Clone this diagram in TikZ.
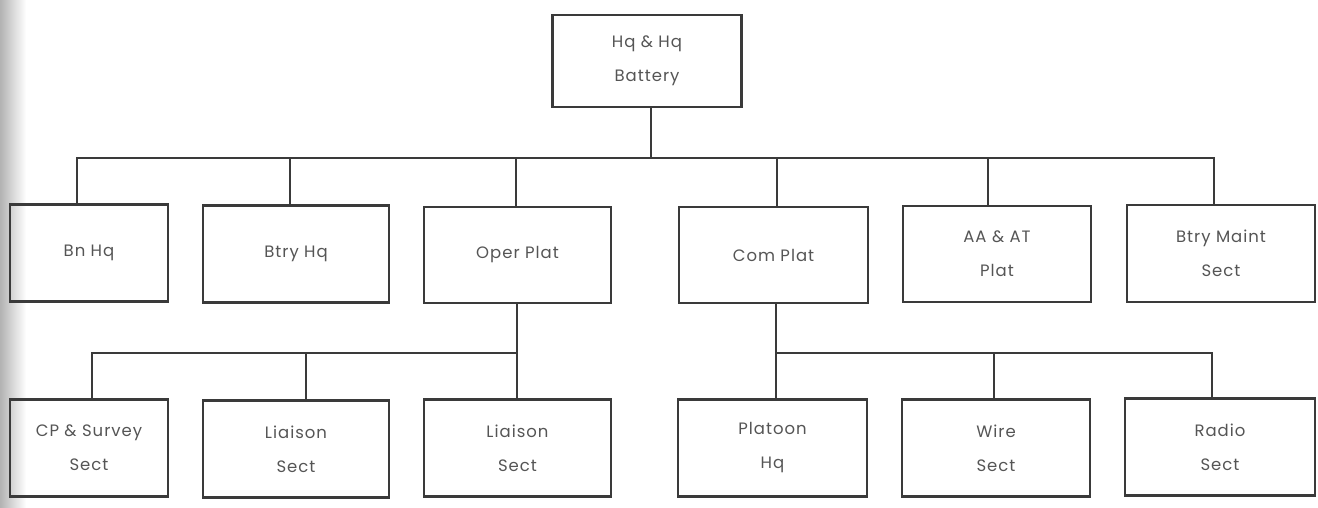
\documentclass[tikz,border=0pt]{standalone}
\usepackage{fontspec}
\newfontfamily\orgfont{Poppins}[LetterSpace=6]
\definecolor{ink}{HTML}{3A3A3A}
\definecolor{txt}{HTML}{555555}
\tikzset{
  x=1pt, y=-1pt,
  unit/.style={draw=ink, line width=2.4pt, rectangle, inner sep=0pt,
    align=center, text=txt, font={\orgfont\fontsize{16.5}{34}\selectfont}},
  link/.style={draw=ink, line width=2.2pt},
}
\begin{document}
\begin{tikzpicture}
\useasboundingbox (0,0) rectangle (1318,508);
\shade[left color=black!30, right color=white] (0,0) rectangle (26,508);
% top
\node[unit, minimum width=189pt, minimum height=92pt] (top) at (647,61) {Hq \& Hq\\Battery};
% row 1
\node[unit, minimum width=158pt, minimum height=97pt] (bn) at (89,253) {Bn Hq};
\node[unit, minimum width=186pt, minimum height=97pt] (btry) at (296,254) {Btry Hq};
\node[unit, minimum width=187pt, minimum height=96pt] (oper) at (517.5,255) {Oper Plat};
\node[unit, minimum width=189pt, minimum height=96pt] (com) at (773.5,255) {Com Plat};
\node[unit, minimum width=188pt, minimum height=96pt] (aa) at (997,254) {AA \& AT\\Plat};
\node[unit, minimum width=188pt, minimum height=97pt] (maint) at (1221,253.5) {Btry Maint\\Sect};
% row 2
\node[unit, minimum width=158pt, minimum height=97pt] (cp) at (89,448) {CP \& Survey\\Sect};
\node[unit, minimum width=186pt, minimum height=97pt] (li1) at (296,449) {Liaison\\Sect};
\node[unit, minimum width=187pt, minimum height=97pt] (li2) at (517.5,448) {Liaison\\Sect};
\node[unit, minimum width=189pt, minimum height=97pt] (plh) at (772.5,448) {Platoon\\Hq};
\node[unit, minimum width=188pt, minimum height=97pt] (wire) at (996,448) {Wire\\Sect};
\node[unit, minimum width=190pt, minimum height=97pt] (radio) at (1220,447) {Radio\\Sect};
% top bus
\coordinate (stem) at (651,158);
\coordinate (d1) at (77,158);
\coordinate (d2) at (290,158);
\coordinate (d3) at (516,158);
\coordinate (d4) at (777,158);
\coordinate (d5) at (988,158);
\coordinate (d6) at (1214,158);
\draw[link] (stem |- top.south) -- (stem);
\draw[link] (d1 |- bn.north) -- (d1) -- (d6) -- (d6 |- maint.north);
\draw[link] (d2) -- (d2 |- btry.north);
\draw[link] (d3) -- (d3 |- oper.north);
\draw[link] (d4) -- (d4 |- com.north);
\draw[link] (d5) -- (d5 |- aa.north);
% oper bus
\coordinate (o1) at (92,353);
\coordinate (o2) at (306,353);
\coordinate (o3) at (517,353);
\draw[link] (o3 |- oper.south) -- (o3 |- li2.north);
\draw[link] (o1 |- cp.north) -- (o1) -- (o3);
\draw[link] (o2) -- (o2 |- li1.north);
% com bus
\coordinate (c1) at (776,353);
\coordinate (c2) at (994,353);
\coordinate (c3) at (1212,353);
\draw[link] (c1 |- com.south) -- (c1 |- plh.north);
\draw[link] (c1) -- (c3) -- (c3 |- radio.north);
\draw[link] (c2) -- (c2 |- wire.north);
\end{tikzpicture}
\end{document}
